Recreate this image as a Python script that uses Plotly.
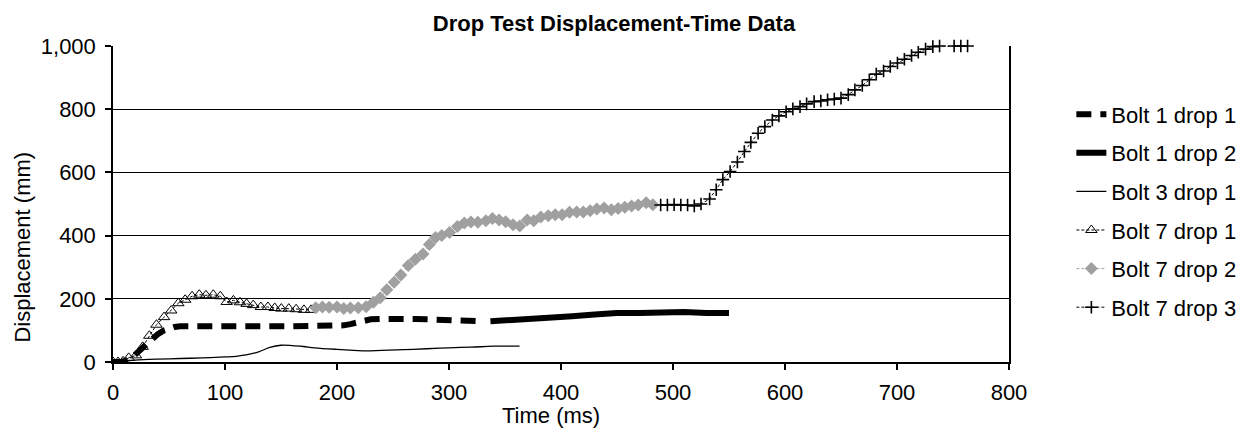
import plotly.graph_objects as go

# ---- data ----
b1d1_t = [0, 8, 15, 20, 25, 30, 35, 40, 45, 50, 55, 60, 80, 100, 120, 140, 160, 180, 200, 206, 212, 218, 224, 230, 240, 250, 260, 270, 280, 290, 300, 310, 320, 330]
b1d1_d = [0, 1, 8, 22, 40, 57, 75, 88, 99, 106, 111, 113, 114, 113, 113, 113, 113, 113, 114, 116, 120, 126, 131, 135, 136, 137, 137, 136, 135, 133, 132, 131, 130, 129]

b1d2_t = [337, 350, 370, 390, 410, 430, 450, 470, 490, 510, 530, 550]
b1d2_d = [129, 131, 136, 140, 145, 150, 155, 155, 158, 158, 155, 155]

b3d1_t = [0, 10, 20, 40, 60, 80, 100, 110, 120, 130, 140, 150, 160, 170, 180, 200, 215, 227, 240, 260, 280, 300, 320, 340, 363]
b3d1_d = [0, 3, 6, 9, 11, 13, 16, 18, 23, 32, 46, 53, 52, 49, 45, 40, 37, 35, 37, 39, 42, 45, 47, 50, 50]

b7d1_t = [0, 4.5, 9, 14, 20.5, 26.5, 32.4, 38.8, 45.6, 52, 58.3, 64.4, 70.6, 77, 83, 89.5, 95.8, 101.5, 107.5, 113.4, 119.3, 125.2, 132, 138.3, 144.4, 150.3, 157, 163.5, 170.5, 176.8]
b7d1_d = [0, 0, 2, 13, 21, 48, 83, 118, 142, 163, 186, 197, 208, 213, 211, 213, 208, 190, 195, 189, 184, 180, 174, 174, 171, 169, 169, 167, 165, 165]

b7d2_t = [181, 187, 193, 200, 206, 212, 219, 226, 232.5, 238.6, 244.5, 251, 257, 263.6, 270, 276.8, 282.5, 288, 293.5, 300.5, 307.5, 313.7, 319.6, 325.8, 332.9, 338.8, 344.7, 350.6, 357.2, 363.2, 369.8, 375.7, 382, 388.6, 394.8, 401, 407.6, 414, 419.9, 426, 432, 438.5, 445, 451, 457, 463, 469, 476, 482]
b7d2_d = [172, 174, 173, 174, 169, 171, 172, 175, 189, 203, 229, 252, 275, 305, 325, 342, 372, 394, 400, 410, 429, 440, 443, 442, 447, 454, 449, 444, 434, 430, 449, 447, 459, 463, 466, 466, 474, 475, 475, 479, 484, 487, 482, 486, 490, 494, 497, 504, 498]

b7d3_t = [489, 495, 501, 507, 513, 519, 525, 532.7, 538.6, 544.5, 551, 557.5, 563.7, 569.5, 576, 582, 588.7, 594.6, 601, 607, 613.4, 619.3, 626, 632, 638, 644, 650, 656.5, 662.4, 669, 675.3, 681.5, 688, 694, 700.4, 706.6, 713, 719, 725.5, 732, 738, 751, 757, 763]
b7d3_d = [497, 497, 498, 497, 497, 494, 500, 516, 545, 577, 603, 633, 666, 695, 724, 745, 766, 779, 792, 801, 808, 817, 824, 826, 830, 832, 835, 846, 861, 875, 893, 911, 921, 935, 946, 958, 970, 980, 990, 998, 1000, 1000, 1000, 1000]

x_ticks = [0, 100, 200, 300, 400, 500, 600, 700, 800]
y_ticks = [0, 200, 400, 600, 800, 1000]

FONT = "Liberation Sans, Arial, sans-serif"
GRAY = "#A0A0A0"
FS = 22

fig = go.Figure()
fig.add_trace(go.Scatter(x=b1d1_t, y=b1d1_d, name="Bolt 1 drop 1", legendgroup="a", mode="lines",
                         line=dict(color="black", width=6, dash="15px,9px")))
fig.add_trace(go.Scatter(x=b1d2_t, y=b1d2_d, name="Bolt 1 drop 2", legendgroup="b", mode="lines",
                         line=dict(color="black", width=6)))
fig.add_trace(go.Scatter(x=b3d1_t, y=b3d1_d, name="Bolt 3 drop 1", legendgroup="c", mode="lines",
                         line=dict(color="black", width=1.3, shape="spline")))
fig.add_trace(go.Scatter(x=b7d1_t, y=b7d1_d, name="Bolt 7 drop 1", legendgroup="d", mode="lines+markers",
                         line=dict(color="black", width=1, dash="3px,2px"),
                         marker=dict(symbol="triangle-up-open", size=10, color="black", line=dict(width=1))))
fig.add_trace(go.Scatter(x=b7d2_t, y=b7d2_d, name="Bolt 7 drop 2", legendgroup="e", mode="lines+markers",
                         line=dict(color=GRAY, width=1, dash="3px,2px"),
                         marker=dict(symbol="diamond", size=10, color=GRAY, line=dict(width=0))))
fig.add_trace(go.Scatter(x=b7d3_t, y=b7d3_d, name="Bolt 7 drop 3", legendgroup="f", mode="lines+markers",
                         cliponaxis=False,
                         line=dict(color="black", width=1, dash="3px,2px"),
                         marker=dict(symbol="cross-thin", size=9, color="black", line=dict(width=1.6, color="black"))))

fig.update_layout(
    width=1253, height=432,
    margin=dict(l=113, r=235, t=46, b=70),
    paper_bgcolor="white", plot_bgcolor="white",
    font=dict(family=FONT, size=FS, color="black"),
    title=dict(text="<b>Drop Test Displacement-Time Data</b>", x=614/1253, xanchor="center",
               y=1 - 23/432, yanchor="middle", font=dict(size=FS, family=FONT, color="black")),
    showlegend=True,
    legend=dict(x=1.0696, xanchor="left", y=0.85, yanchor="top", tracegroupgap=7,
                font=dict(size=FS, family=FONT, color="black"), bgcolor="rgba(0,0,0,0)"),
    xaxis=dict(range=[0, 800], tickvals=x_ticks, showgrid=False, zeroline=False,
               showline=True, linecolor="black", linewidth=1.5, ticks="outside", ticklen=6,
               tickcolor="black", tickwidth=1.5, tickfont=dict(size=FS), ticklabelstandoff=4),
    yaxis=dict(range=[0, 1000], tickvals=y_ticks, tickformat=",", showgrid=True, gridcolor="black",
               gridwidth=1.2, zeroline=False, showline=True, mirror=True, linecolor="black", linewidth=1.5,
               ticks="outside", ticklen=6, tickcolor="black", tickwidth=1.5, tickfont=dict(size=FS),
               ticklabelstandoff=5),
    annotations=[
        dict(text="Time (ms)", x=(555-113)/905, xref="paper", y=-(431-362.5)/316.5, yref="paper",
             xanchor="center", yanchor="bottom", showarrow=False, font=dict(size=FS)),
        dict(text="Displacement (mm)", x=-(113-22)/905, xref="paper", y=(362.5-247)/316.5, yref="paper",
             xanchor="center", yanchor="middle", showarrow=False, textangle=-90, font=dict(size=FS)),
    ],
)

fig.write_html("out.html", config={"displayModeBar": False},
               post_script="document.body.style.margin='0';document.body.style.overflow='hidden';")
